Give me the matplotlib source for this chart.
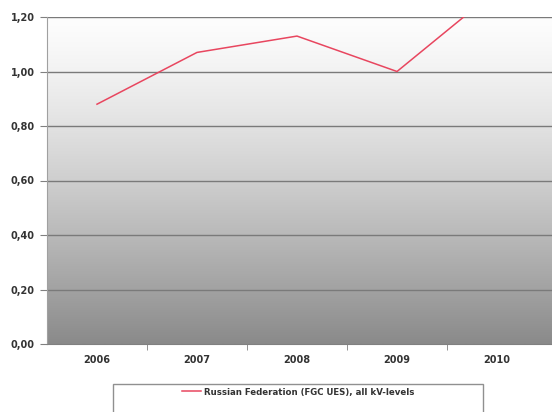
import numpy as np
import matplotlib.pyplot as plt
from matplotlib.patches import Rectangle

years = ['2006', '2007', '2008', '2009', '2010']
values = [0.88, 1.07, 1.13, 1.00, 1.30]
yticks = [0.0, 0.2, 0.4, 0.6, 0.8, 1.0, 1.2]
series_name = 'Russian Federation (FGC UES), all kV-levels'

fig = plt.figure(figsize=(5.52, 4.12), dpi=100)
ax = fig.add_axes([47/552, 68/412, 1 - 47/552, 327/412])

# grey gradient background: near white at the top, mid grey at the bottom
t = np.linspace(0, 1, 256) ** 1.3
top, bottom = np.array([253, 253, 253]) / 255, np.array([138, 138, 138]) / 255
grad = (top[None, :] * (1 - t[:, None]) + bottom[None, :] * t[:, None])[:, None, :]
ax.imshow(grad, aspect='auto', extent=(-0.5, 4.55, 0, 1.2), origin='upper', zorder=0)

x = np.arange(len(years))
ax.plot(x, values, color='#e8465f', lw=1.1, zorder=3)

ax.set_xlim(-0.5, 4.55)
ax.set_ylim(0, 1.2)
ax.set_yticks(yticks)
ax.yaxis.set_major_formatter(plt.FuncFormatter(lambda v, p: ('%.2f' % v).replace('.', ',')))
for v in yticks[1:]:
    ax.axhline(v, color='#7a7a7a', lw=1.0, zorder=2)

ax.set_xticks(x)
ax.set_xticklabels(years)
ax.set_xticks(np.arange(len(years) - 1) + 0.5, minor=True)
ax.tick_params(axis='x', which='major', length=0, pad=8)
ax.tick_params(axis='x', which='minor', length=4, color='#808080', direction='out')
ax.tick_params(axis='y', length=5, color='#808080', pad=4)
for lab in ax.get_xticklabels() + ax.get_yticklabels():
    lab.set_fontsize(7)
    lab.set_fontweight('bold')
    lab.set_color('#333333')

for s in ['top', 'right']:
    ax.spines[s].set_visible(False)
ax.spines['left'].set_color('#a0a0a0')
ax.spines['bottom'].set_color('#808080')

# legend box
fig.patches.append(Rectangle((113/552, -0.01), 370/552, 32/412, transform=fig.transFigure,
                             facecolor='white', edgecolor='#909090', lw=1.0))
handle = plt.Line2D([], [], color='#e8465f', lw=1.1)
leg = fig.legend([handle], [series_name], loc='center', bbox_to_anchor=(298/552, 20/412),
                 frameon=False, fontsize=6.2, handlelength=2.2, handletextpad=0.4)
for txt in leg.get_texts():
    txt.set_fontweight('bold')
    txt.set_color('#333333')

fig.savefig('out.png', dpi=100)
